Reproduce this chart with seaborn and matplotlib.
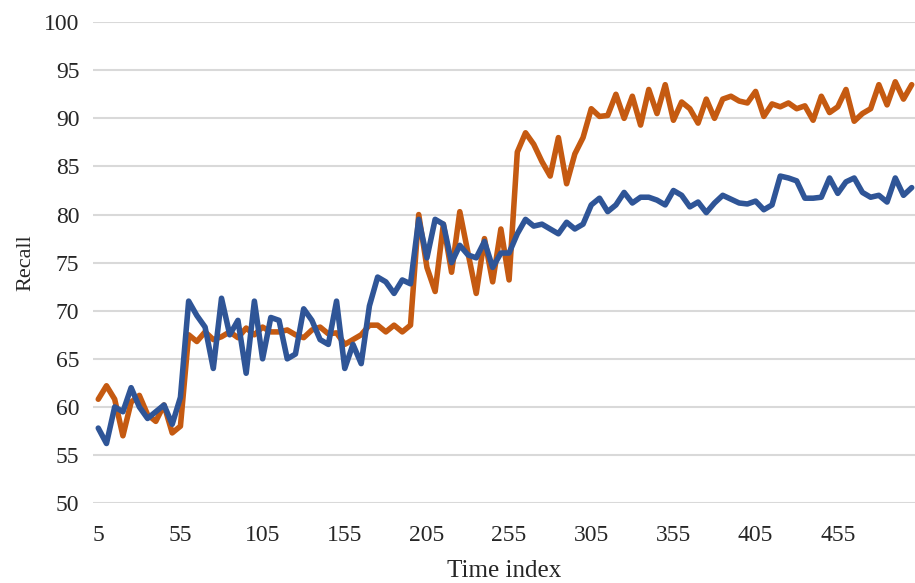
import pandas as pd
import matplotlib.pyplot as plt
import seaborn as sns

# time index in steps of 5
time_index = list(range(5, 505, 5))

orange_recall = [60.8, 62.2, 60.8, 57.0, 60.5, 61.2, 59.2, 58.5, 60.2, 57.3,
                 58.0, 67.5, 66.8, 67.8, 67.0, 67.3, 67.8, 67.2, 68.2, 67.5,
                 68.3, 67.8, 67.8, 68.0, 67.5, 67.2, 68.0, 68.3, 67.6, 67.7,
                 66.5, 67.0, 67.5, 68.5, 68.5, 67.8, 68.5, 67.8, 68.5, 80.0,
                 74.5, 72.0, 79.0, 74.0, 80.3, 76.0, 71.8, 77.5, 73.0, 78.5,
                 73.2, 86.5, 88.5, 87.3, 85.5, 84.0, 88.0, 83.2, 86.3, 88.0,
                 91.0, 90.2, 90.3, 92.5, 90.0, 92.3, 89.3, 93.0, 90.5, 93.5,
                 89.8, 91.7, 91.0, 89.5, 92.0, 90.0, 92.0, 92.3, 91.8, 91.6,
                 92.8, 90.2, 91.5, 91.2, 91.6, 91.0, 91.3, 89.8, 92.3, 90.6,
                 91.2, 93.0, 89.7, 90.5, 91.0, 93.5, 91.4, 93.8, 92.0, 93.5]

blue_recall = [57.8, 56.2, 60.0, 59.5, 62.0, 60.0, 58.8, 59.5, 60.2, 58.2,
               61.0, 71.0, 69.5, 68.3, 64.0, 71.3, 67.5, 69.0, 63.5, 71.0,
               65.0, 69.3, 69.0, 65.0, 65.5, 70.2, 69.0, 67.0, 66.5, 71.0,
               64.0, 66.5, 64.5, 70.5, 73.5, 73.0, 71.8, 73.2, 72.8, 79.5,
               75.5, 79.5, 79.0, 75.0, 76.8, 75.8, 75.5, 77.2, 74.5, 76.0,
               76.0, 78.0, 79.5, 78.8, 79.0, 78.5, 78.0, 79.2, 78.5, 79.0,
               81.0, 81.7, 80.3, 81.0, 82.3, 81.2, 81.8, 81.8, 81.5, 81.0,
               82.5, 82.0, 80.8, 81.3, 80.2, 81.2, 82.0, 81.6, 81.2, 81.1,
               81.4, 80.5, 81.0, 84.0, 83.8, 83.5, 81.7, 81.7, 81.8, 83.8,
               82.2, 83.4, 83.8, 82.3, 81.8, 82.0, 81.3, 83.8, 82.0, 82.8]

x_ticks = list(range(5, 505, 50))
y_ticks = list(range(50, 105, 5))

df = pd.DataFrame({'time': time_index, 'orange': orange_recall, 'blue': blue_recall})

sns.set_style('white')
plt.rcParams['font.family'] = ['Liberation Serif', 'DejaVu Serif']

fig = plt.figure(figsize=(9.15, 5.83), dpi=100)
ax = fig.add_axes([0.102, 0.137, 0.898, 0.825])

for y in y_ticks:
    ax.axhline(y, color='#d9d9d9', linewidth=1.5, zorder=0)

sns.lineplot(data=df, x='time', y='orange', ax=ax, color='#c55a11', linewidth=4)
sns.lineplot(data=df, x='time', y='blue', ax=ax, color='#2f5597', linewidth=4)
for line in ax.get_lines():
    line.set_solid_joinstyle('round')
    line.set_solid_capstyle('round')

ax.set_xlim(2, 502)
ax.set_ylim(50, 100)
ax.set_xticks(x_ticks)
ax.set_yticks(y_ticks)
ax.tick_params(axis='x', length=0, pad=16, labelsize=17)
ax.tick_params(axis='y', length=0, pad=10, labelsize=17)
for s in ax.spines.values():
    s.set_visible(False)

ax.set_xlabel('Time index', fontsize=18, labelpad=10)
ax.set_ylabel('Recall', fontsize=16, labelpad=6)

fig.savefig('out.png', dpi=100)
